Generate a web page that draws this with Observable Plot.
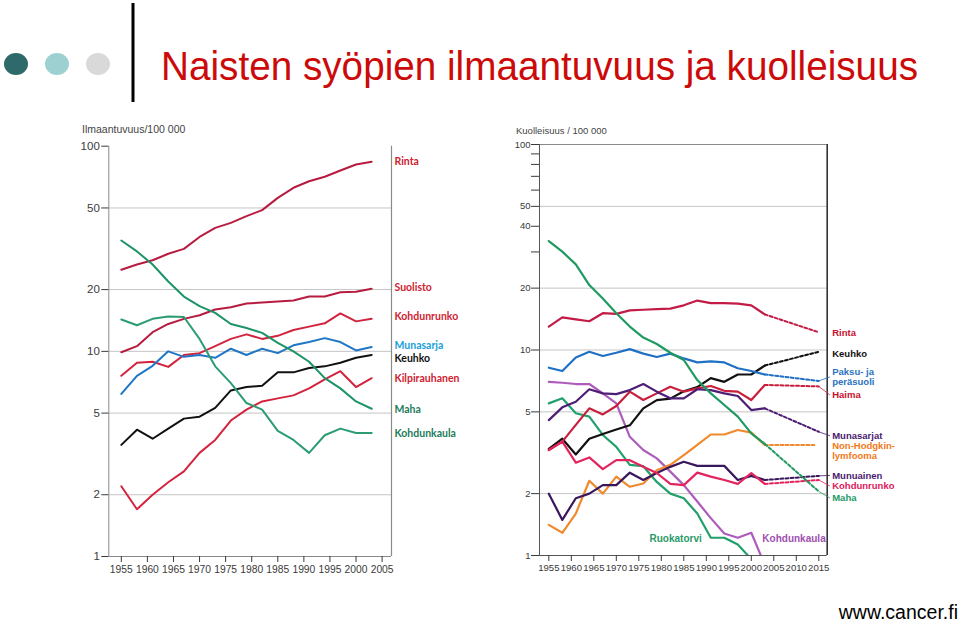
<!DOCTYPE html>
<html>
<head>
<meta charset="utf-8">
<script src="https://cdn.jsdelivr.net/npm/d3@7"></script>
<script src="https://cdn.jsdelivr.net/npm/@observablehq/plot@0.6"></script>
<style>
  html, body { margin: 0; padding: 0; background: #fff; }
  #page { position: relative; width: 960px; height: 622px; overflow: hidden; font-family: "Liberation Sans", Arial, sans-serif; }
  .abs { position: absolute; }
  .ytitle { position: absolute; color: #444; white-space: nowrap; line-height: 1; }
</style>
</head>
<body>
<div id="page">
  <svg class="abs" style="left:0;top:0" width="960" height="622">
    <ellipse cx="16" cy="64" rx="12" ry="11" fill="#2f6a6b"/>
    <ellipse cx="57" cy="64" rx="12" ry="11" fill="#9dd0d1"/>
    <ellipse cx="98" cy="64" rx="12" ry="11" fill="#d9d9d9"/>
    <rect x="131.5" y="3" width="3" height="99" fill="#000"/>
    <text x="161" y="79.5" textLength="757" lengthAdjust="spacingAndGlyphs" font-family="Liberation Sans, Arial, sans-serif" font-size="40" fill="#cc0a0a">Naisten syöpien ilmaantuvuus ja kuolleisuus</text>
    <text x="958" y="619" text-anchor="end" font-family="Liberation Sans, Arial, sans-serif" font-size="19.5" fill="#000">www.cancer.fi</text>
  </svg>
  <div class="ytitle" style="left:82px;top:124px;font-size:10.5px;">Ilmaantuvuus/100 000</div>
  <div class="ytitle" style="left:516px;top:125.5px;font-size:9.5px;">Kuolleisuus / 100 000</div>
  <div id="left" class="abs" style="left:60px;top:120px"></div>
  <div id="right" class="abs" style="left:490px;top:120px"></div>
</div>
<script>
// ---------- DATA ----------
const years = [1955,1958,1961,1964,1967,1970,1973,1976,1979,1982,1985,1988,1991,1994,1997,2000,2003];

// Incidence (ilmaantuvuus / 100 000)
const rintaI        = [25.0,26.5,27.8,29.9,31.6,36.1,40.0,42.3,45.6,48.8,56.0,62.7,67.5,71.0,76.1,81.4,84.0];
const suolistoI     = [9.9,10.6,12.4,13.6,14.4,15.0,16.0,16.4,17.1,17.3,17.5,17.7,18.5,18.5,19.4,19.5,20.2];
const kohdunrunkoI  = [7.6,8.8,8.9,8.4,9.6,9.8,10.6,11.5,12.1,11.5,11.9,12.7,13.2,13.7,15.3,14.0,14.4];
const munasarjaI    = [6.2,7.6,8.5,10.0,9.4,9.6,9.3,10.3,9.6,10.3,9.8,10.7,11.1,11.6,11.1,10.1,10.5];
const keuhkoI       = [3.5,4.15,3.75,4.2,4.7,4.8,5.3,6.45,6.7,6.8,7.9,7.9,8.3,8.45,8.8,9.3,9.6];
const kilpiI        = [2.2,1.7,2.0,2.3,2.6,3.2,3.7,4.6,5.2,5.7,5.9,6.1,6.6,7.3,8.0,6.7,7.4];
const mahaI         = [34.7,30.7,26.5,21.9,18.5,16.6,15.4,13.6,13.0,12.3,11.0,10.0,8.9,7.4,6.6,5.7,5.25];
const kohdunkaulaI  = [14.3,13.4,14.4,14.8,14.7,11.5,8.45,7.0,5.6,5.2,4.1,3.7,3.2,3.9,4.2,4.0,4.0];

// Mortality (kuolleisuus / 100 000)
const rintaM        = [13.0,14.4,14.1,13.8,15.1,15.0,15.6,15.7,15.8,15.9,16.5,17.4,16.9,16.9,16.8,16.5,14.9];
const keuhkoM       = [3.3,3.7,3.1,3.7,3.9,4.1,4.3,5.2,5.7,5.8,6.3,6.6,7.3,7.0,7.6,7.6,8.4];
const paksuM        = [8.2,7.9,9.2,9.8,9.35,9.7,10.1,9.6,9.25,9.6,9.1,8.7,8.8,8.7,8.15,7.9,7.6];
const haimaM        = [3.26,3.58,4.32,5.2,4.86,5.34,6.27,5.71,6.15,6.63,6.27,6.51,6.68,6.33,6.27,5.71,6.76];
const munasarjatM   = [4.56,5.26,5.6,6.44,6.15,6.1,6.38,6.83,6.27,5.82,5.82,6.44,6.38,6.15,5.97,5.1,5.2];
const nhlM          = [1.41,1.29,1.6,2.31,2.0,2.42,2.16,2.24,2.6,2.76,3.08,3.45,3.88,3.88,4.08,3.96,3.45];
const munuainenM    = [2.0,1.49,1.9,2.0,2.2,2.2,2.53,2.33,2.52,2.7,2.86,2.73,2.73,2.73,2.33,2.44,2.33];
const kohdunrunkoM  = [3.26,3.58,2.83,3.0,2.63,2.91,2.91,2.7,2.52,2.23,2.2,2.53,2.42,2.33,2.23,2.52,2.23];
const mahaM         = [33.9,30.1,26.1,20.7,17.8,15.1,13.0,11.5,10.7,9.7,8.94,7.14,6.15,5.4,4.74,3.93,3.49];
const ruokatorviM   = [5.5,5.82,4.92,4.74,3.86,3.38,2.76,2.72,2.28,2.0,1.9,1.6,1.22,1.22,1.13,0.96,0.85];
const kohdunkaulaM  = [7.0,6.93,6.83,6.83,6.15,5.5,3.78,3.26,2.97,2.56,2.2,1.83,1.52,1.28,1.22,1.29,0.9];

// Projections to 2015 (dotted)
const projNames  = ["Rinta","Keuhko","Paksu- ja\nperäsuoli","Haima","Munasarjat","Non-Hodgkin-\nlymfooma","Munuainen","Kohdunrunko","Maha"];
const projYears  = [2015,2015,2015,2015,2015,2014,2015,2015,2015];
const projValues = [12.2,9.8,7.07,6.65,4.0,3.45,2.44,2.33,2.05];

// Tick labels
const xTicksL = [1955,1960,1965,1970,1975,1980,1985,1990,1995,2000,2005];
const xTicksR = [1955,1960,1965,1970,1975,1980,1985,1990,1995,2000,2005,2010,2015];
const yTicksL = [1,2,5,10,20,50,100];
const yTicksR = [1,2,5,10,20,30,40,50,60,70,80,90,100];
const yLabelsR = [1,2,5,10,20,40,50,100];

// ---------- STYLE ----------
const styleI = {
  "Rinta":        {line:"#b71c40", label:"#cf2230", dy:0},
  "Suolisto":     {line:"#b71c40", label:"#cf2230", dy:-1},
  "Kohdunrunko":  {line:"#d3233e", label:"#cf2230", dy:-2},
  "Munasarja":    {line:"#1f76c6", label:"#1aa0d8", dy:-1},
  "Keuhko":       {line:"#111111", label:"#111111", dy:4},
  "Kilpirauhanen":{line:"#d3233e", label:"#cf2230", dy:0},
  "Maha":         {line:"#1d9466", label:"#1d7c5a", dy:1},
  "Kohdunkaula":  {line:"#2c9c72", label:"#1d7c5a", dy:0.5}
};
const incidence = [
  ["Rinta", rintaI], ["Suolisto", suolistoI], ["Kohdunrunko", kohdunrunkoI],
  ["Munasarja", munasarjaI], ["Keuhko", keuhkoI], ["Kilpirauhanen", kilpiI],
  ["Maha", mahaI], ["Kohdunkaula", kohdunkaulaI]
];
const styleM = {
  "Rinta":       {line:"#c21c46", label:"#c8102e", dy:0.5, leader:false},
  "Keuhko":      {line:"#111111", label:"#111111", dy:2, leader:false},
  "Paksu":       {line:"#2070c4", label:"#2a72c0", dy:-4, leader:true},
  "Haima":       {line:"#c91f3c", label:"#c8102e", dy:8.5, leader:true},
  "Munasarjat":  {line:"#4e1d76", label:"#4b1a70", dy:4, leader:true},
  "NHL":         {line:"#f08a2c", label:"#f07a20", dy:6, leader:false},
  "Munuainen":   {line:"#3a175c", label:"#4b1a70", dy:-0.5, leader:true},
  "Kohdunrunko": {line:"#e4245c", label:"#e0185a", dy:6, leader:true},
  "Maha":        {line:"#1f9a60", label:"#1e9a6a", dy:6.5, leader:true},
  "Ruokatorvi":  {line:"#22a06c", label:"#2a9a6a"},
  "Kohdunkaula": {line:"#ad5cbc", label:"#a050b0"}
};
const mortality = [
  ["Rinta", rintaM], ["Keuhko", keuhkoM], ["Paksu", paksuM], ["Haima", haimaM],
  ["Munasarjat", munasarjatM], ["NHL", nhlM], ["Munuainen", munuainenM],
  ["Kohdunrunko", kohdunrunkoM], ["Maha", mahaM]
];

const toRows = vals => years.map((y, i) => ({year: y, value: vals[i]}));

// ---------- LEFT CHART ----------
const xL = [1952.6, 2006.8];
const leftMarks = [
  Plot.gridY([2,5,10,20,50], {stroke:"#c4c4c4", strokeOpacity:1}),
  Plot.ruleX([xL[0]], {stroke:"#8a8a8a"}),
  Plot.ruleX([xL[1]], {stroke:"#8a8a8a", strokeWidth:1.2}),
  Plot.ruleY([1], {stroke:"#8a8a8a"}),
  Plot.axisY({ticks: yTicksL, tickFormat: d => String(d), tickSize: 7, tickPadding: 2, fontSize: 11.5, color: "#3a3a3a", label: null}),
  Plot.axisX({ticks: xTicksL, tickFormat: d => String(d), tickSize: 6, tickPadding: 3, fontSize: 10.3, color: "#3a3a3a", label: null})
];
incidence.forEach(([name, vals]) => {
  const s = styleI[name];
  const rows = toRows(vals);
  leftMarks.push(Plot.line(rows, {x:"year", y:"value", stroke:s.line, strokeWidth:2, strokeLinejoin:"round"}));
  leftMarks.push(Plot.text([rows[rows.length-1]], {x: () => xL[1], y:"value", text: () => name, dx:3, dy:s.dy,
    textAnchor:"start", fill:s.label, fontWeight:"bold", fontSize:10.5, fontFamily:"Lato, 'Open Sans', sans-serif"}));
});
const left = Plot.plot({
  width: 420, height: 470,
  marginLeft: 48.3, marginRight: 89, marginTop: 25.7, marginBottom: 34,
  style: {fontFamily: "'Liberation Sans', Arial, sans-serif", background: "transparent", overflow: "visible"},
  x: {domain: xL},
  y: {type: "log", domain: [1, 100]},
  marks: leftMarks
});
document.getElementById("left").appendChild(left);

// ---------- RIGHT CHART ----------
const xR = [1952.93, 2016.87];
const lblFont = {fontWeight:"bold", fontSize:9.5, fontFamily:"'Liberation Sans', Arial, sans-serif", lineHeight:1.05};
const rightMarks = [
  Plot.gridY([2,5,10,20,50], {stroke:"#c4c4c4", strokeOpacity:1}),
  Plot.ruleY([100], {stroke:"#8a8a8a"}),
  Plot.ruleX([xR[0]], {stroke:"#555"}),
  Plot.ruleX([xR[1]], {stroke:"#333", strokeWidth:1.6}),
  Plot.ruleY([1], {stroke:"#555"}),
  Plot.axisY({ticks: yTicksR, tickFormat: d => yLabelsR.includes(d) ? String(d) : "", tickSize: 8, tickPadding: 1, fontSize: 9.5, color: "#3a3a3a", label: null}),
  Plot.axisX({ticks: xTicksR, tickFormat: d => String(d), tickSize: 6, tickPadding: 3, fontSize: 9.6, color: "#3a3a3a", label: null})
];
// lines that end inside the chart
[["Ruokatorvi", ruokatorviM], ["Kohdunkaula", kohdunkaulaM]].forEach(([name, vals]) => {
  rightMarks.push(Plot.line(toRows(vals), {x:"year", y:"value", stroke:styleM[name].line, strokeWidth:2.2, strokeLinejoin:"round", clip:true}));
});
rightMarks.push(Plot.text(["Ruokatorvi"], {frameAnchor:"bottom-left", dx:110, dy:-14, textAnchor:"start", fill:styleM["Ruokatorvi"].label, ...lblFont, fontSize:10}));
rightMarks.push(Plot.text(["Kohdunkaula"], {frameAnchor:"bottom-right", dx:-1.5, dy:-14, textAnchor:"end", fill:styleM["Kohdunkaula"].label, ...lblFont, fontSize:10}));

mortality.forEach(([key, vals], i) => {
  const s = styleM[key];
  const rows = toRows(vals);
  const last = rows[rows.length-1];
  const proj = [last, {year: projYears[i], value: projValues[i]}];
  rightMarks.push(Plot.line(rows, {x:"year", y:"value", stroke:s.line, strokeWidth:2.2, strokeLinejoin:"round"}));
  rightMarks.push(Plot.line(proj, {x:"year", y:"value", stroke:s.line, strokeWidth:2, strokeDasharray:"3,2.2"}));
  if (s.leader) {
    rightMarks.push(Plot.link([proj[1]], {x1:"year", y1:"value", x2: () => xR[1] + 0.6,
      y2: d => d.value * Math.pow(10, -s.dy / 205.5), stroke:s.line, strokeWidth:0.8}));
  }
  rightMarks.push(Plot.text([proj[1]], {x: () => xR[1], y:"value", text: () => projNames[i], dx:5, dy:s.dy,
    textAnchor:"start", fill:s.label, ...lblFont}));
});
const right = Plot.plot({
  width: 470, height: 470,
  marginLeft: 49, marginRight: 133.3, marginTop: 24, marginBottom: 35,
  style: {fontFamily: "'Liberation Sans', Arial, sans-serif", background: "transparent", overflow: "visible"},
  x: {domain: xR},
  y: {type: "log", domain: [1, 100]},
  marks: rightMarks
});
document.getElementById("right").appendChild(right);
</script>
</body>
</html>
